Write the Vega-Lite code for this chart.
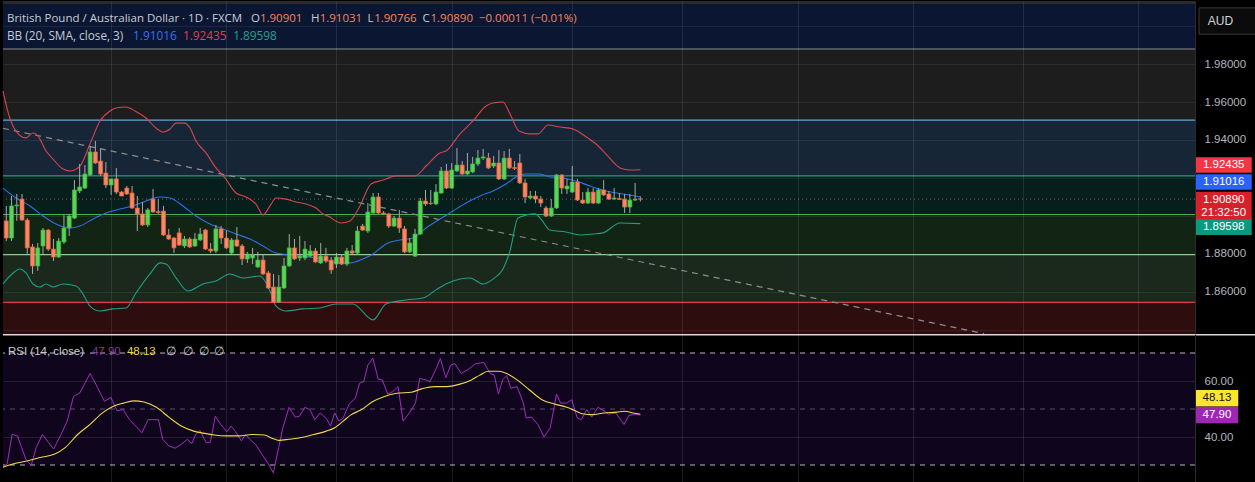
{
  "$schema": "https://vega.github.io/schema/vega-lite/v6.json",
  "background": "#000000",
  "padding": 0,
  "spacing": 0,
  "config": {
    "view": {"stroke": null},
    "font": "Liberation Sans",
    "concat": {"spacing": 0},
    "axis": {"labelFont": "Liberation Sans", "titleFont": "Liberation Sans"}
  },
  "datasets": {
    "zones": [
      {"z": "navy", "lo": 1.9879, "hi": 2.02},
      {"z": "gray", "lo": 1.9505, "hi": 1.9879},
      {"z": "blue", "lo": 1.9211, "hi": 1.9505},
      {"z": "teal", "lo": 1.9008, "hi": 1.9211},
      {"z": "green", "lo": 1.8797, "hi": 1.9008},
      {"z": "lgreen", "lo": 1.8545, "hi": 1.8797},
      {"z": "red", "lo": 1.83, "hi": 1.8545}
    ],
    "zlines": [
      {"n": "gray", "p": 1.9879},
      {"n": "blue", "p": 1.9505},
      {"n": "teal", "p": 1.9211},
      {"n": "green", "p": 1.9008},
      {"n": "lgreen", "p": 1.8797},
      {"n": "red", "p": 1.8545}
    ],
    "trend": [
      {"t": -0.63, "p": 1.94616},
      {"t": 186.6, "p": 1.83805}
    ],
    "candles": [
      {"i":0,"o":1.8974,"h":1.9053,"l":1.8868,"c":1.8884},
      {"i":1,"o":1.8884,"h":1.9105,"l":1.8868,"c":1.9053},
      {"i":2,"o":1.9053,"h":1.9116,"l":1.8974,"c":1.9058},
      {"i":3,"o":1.9089,"h":1.9116,"l":1.8974,"c":1.8979},
      {"i":4,"o":1.8979,"h":1.8989,"l":1.8800,"c":1.8832},
      {"i":5,"o":1.8837,"h":1.8853,"l":1.8695,"c":1.8737},
      {"i":6,"o":1.8737,"h":1.8858,"l":1.8711,"c":1.8832},
      {"i":7,"o":1.8842,"h":1.8937,"l":1.8800,"c":1.8926},
      {"i":8,"o":1.8926,"h":1.8932,"l":1.8816,"c":1.8826},
      {"i":9,"o":1.8826,"h":1.8879,"l":1.8763,"c":1.8784},
      {"i":10,"o":1.8784,"h":1.8884,"l":1.8779,"c":1.8868},
      {"i":11,"o":1.8863,"h":1.9005,"l":1.8853,"c":1.8937},
      {"i":12,"o":1.8937,"h":1.9011,"l":1.8895,"c":1.9000},
      {"i":13,"o":1.8989,"h":1.9189,"l":1.8984,"c":1.9137},
      {"i":14,"o":1.9132,"h":1.9274,"l":1.9121,"c":1.9153},
      {"i":15,"o":1.9147,"h":1.9268,"l":1.9142,"c":1.9221},
      {"i":16,"o":1.9216,"h":1.9368,"l":1.9211,"c":1.9337},
      {"i":17,"o":1.9337,"h":1.9395,"l":1.9274,"c":1.9279},
      {"i":18,"o":1.9289,"h":1.9353,"l":1.9211,"c":1.9221},
      {"i":19,"o":1.9226,"h":1.9284,"l":1.9147,"c":1.9163},
      {"i":20,"o":1.9163,"h":1.9195,"l":1.9111,"c":1.9195},
      {"i":21,"o":1.9195,"h":1.9253,"l":1.9116,"c":1.9126},
      {"i":22,"o":1.9126,"h":1.9132,"l":1.9105,"c":1.9105},
      {"i":23,"o":1.9147,"h":1.9158,"l":1.9111,"c":1.9116},
      {"i":24,"o":1.9121,"h":1.9158,"l":1.9037,"c":1.9042},
      {"i":25,"o":1.9042,"h":1.9105,"l":1.8921,"c":1.9011},
      {"i":26,"o":1.9011,"h":1.9074,"l":1.8947,"c":1.8953},
      {"i":27,"o":1.8953,"h":1.9042,"l":1.8942,"c":1.9032},
      {"i":28,"o":1.9089,"h":1.9142,"l":1.9016,"c":1.9021},
      {"i":29,"o":1.9024,"h":1.9089,"l":1.9011,"c":1.9018},
      {"i":30,"o":1.9026,"h":1.9053,"l":1.8895,"c":1.8900},
      {"i":31,"o":1.8900,"h":1.8932,"l":1.8874,"c":1.8879},
      {"i":32,"o":1.8884,"h":1.8889,"l":1.8805,"c":1.8832},
      {"i":33,"o":1.8911,"h":1.8937,"l":1.8842,"c":1.8847},
      {"i":34,"o":1.8842,"h":1.8895,"l":1.8832,"c":1.8879},
      {"i":35,"o":1.8879,"h":1.8889,"l":1.8832,"c":1.8837},
      {"i":36,"o":1.8842,"h":1.8911,"l":1.8837,"c":1.8879},
      {"i":37,"o":1.8874,"h":1.8937,"l":1.8868,"c":1.8905},
      {"i":38,"o":1.8926,"h":1.8932,"l":1.8821,"c":1.8826},
      {"i":39,"o":1.8826,"h":1.8858,"l":1.8805,"c":1.8816},
      {"i":40,"o":1.8816,"h":1.8953,"l":1.8805,"c":1.8932},
      {"i":41,"o":1.8932,"h":1.8947,"l":1.8853,"c":1.8884},
      {"i":42,"o":1.8884,"h":1.8921,"l":1.8826,"c":1.8832},
      {"i":43,"o":1.8805,"h":1.8884,"l":1.8800,"c":1.8874},
      {"i":44,"o":1.8874,"h":1.8942,"l":1.8837,"c":1.8842},
      {"i":45,"o":1.8842,"h":1.8853,"l":1.8742,"c":1.8774},
      {"i":46,"o":1.8774,"h":1.8811,"l":1.8753,"c":1.8800},
      {"i":47,"o":1.8779,"h":1.8832,"l":1.8747,"c":1.8795},
      {"i":48,"o":1.8732,"h":1.8811,"l":1.8726,"c":1.8768},
      {"i":49,"o":1.8768,"h":1.8800,"l":1.8689,"c":1.8695},
      {"i":50,"o":1.8700,"h":1.8711,"l":1.8616,"c":1.8621},
      {"i":51,"o":1.8626,"h":1.8695,"l":1.8542,"c":1.8547},
      {"i":52,"o":1.8547,"h":1.8689,"l":1.8542,"c":1.8626},
      {"i":53,"o":1.8621,"h":1.8779,"l":1.8616,"c":1.8737},
      {"i":54,"o":1.8737,"h":1.8905,"l":1.8732,"c":1.8832},
      {"i":55,"o":1.8832,"h":1.8879,"l":1.8768,"c":1.8774},
      {"i":56,"o":1.8779,"h":1.8895,"l":1.8763,"c":1.8789},
      {"i":57,"o":1.8779,"h":1.8868,"l":1.8768,"c":1.8826},
      {"i":58,"o":1.8789,"h":1.8847,"l":1.8784,"c":1.8816},
      {"i":59,"o":1.8816,"h":1.8832,"l":1.8753,"c":1.8758},
      {"i":60,"o":1.8753,"h":1.8858,"l":1.8747,"c":1.8789},
      {"i":61,"o":1.8789,"h":1.8832,"l":1.8753,"c":1.8763},
      {"i":62,"o":1.8768,"h":1.8784,"l":1.8695,"c":1.8716},
      {"i":63,"o":1.8747,"h":1.8805,"l":1.8726,"c":1.8784},
      {"i":64,"o":1.8784,"h":1.8800,"l":1.8742,"c":1.8747},
      {"i":65,"o":1.8747,"h":1.8832,"l":1.8737,"c":1.8816},
      {"i":66,"o":1.8816,"h":1.8847,"l":1.8800,"c":1.8805},
      {"i":67,"o":1.8805,"h":1.8947,"l":1.8800,"c":1.8921},
      {"i":68,"o":1.8947,"h":1.8958,"l":1.8921,"c":1.8926},
      {"i":69,"o":1.8921,"h":1.9068,"l":1.8911,"c":1.9021},
      {"i":70,"o":1.9016,"h":1.9121,"l":1.9011,"c":1.9100},
      {"i":71,"o":1.9100,"h":1.9121,"l":1.9011,"c":1.9016},
      {"i":72,"o":1.9016,"h":1.9026,"l":1.9005,"c":1.9011},
      {"i":73,"o":1.9011,"h":1.9016,"l":1.8937,"c":1.8947},
      {"i":74,"o":1.8947,"h":1.9000,"l":1.8942,"c":1.8989},
      {"i":75,"o":1.8989,"h":1.9032,"l":1.8911,"c":1.8937},
      {"i":76,"o":1.8932,"h":1.8947,"l":1.8805,"c":1.8811},
      {"i":77,"o":1.8811,"h":1.8884,"l":1.8805,"c":1.8858},
      {"i":78,"o":1.8789,"h":1.8932,"l":1.8784,"c":1.8905},
      {"i":79,"o":1.8905,"h":1.9095,"l":1.8900,"c":1.9079},
      {"i":80,"o":1.9079,"h":1.9137,"l":1.9053,"c":1.9063},
      {"i":81,"o":1.9068,"h":1.9137,"l":1.9058,"c":1.9066},
      {"i":82,"o":1.9063,"h":1.9168,"l":1.9058,"c":1.9126},
      {"i":83,"o":1.9121,"h":1.9258,"l":1.9116,"c":1.9237},
      {"i":84,"o":1.9237,"h":1.9274,"l":1.9142,"c":1.9147},
      {"i":85,"o":1.9147,"h":1.9279,"l":1.9142,"c":1.9242},
      {"i":86,"o":1.9237,"h":1.9358,"l":1.9232,"c":1.9268},
      {"i":87,"o":1.9268,"h":1.9289,"l":1.9216,"c":1.9221},
      {"i":88,"o":1.9221,"h":1.9332,"l":1.9216,"c":1.9237},
      {"i":89,"o":1.9232,"h":1.9311,"l":1.9226,"c":1.9274},
      {"i":90,"o":1.9274,"h":1.9347,"l":1.9263,"c":1.9305},
      {"i":91,"o":1.9305,"h":1.9353,"l":1.9295,"c":1.9311},
      {"i":92,"o":1.9305,"h":1.9332,"l":1.9247,"c":1.9253},
      {"i":93,"o":1.9263,"h":1.9316,"l":1.9253,"c":1.9279},
      {"i":94,"o":1.9279,"h":1.9347,"l":1.9189,"c":1.9195},
      {"i":95,"o":1.9195,"h":1.9342,"l":1.9189,"c":1.9305},
      {"i":96,"o":1.9305,"h":1.9353,"l":1.9247,"c":1.9253},
      {"i":97,"o":1.9255,"h":1.9289,"l":1.9242,"c":1.9250},
      {"i":98,"o":1.9279,"h":1.9326,"l":1.9168,"c":1.9174},
      {"i":99,"o":1.9174,"h":1.9195,"l":1.9068,"c":1.9100},
      {"i":100,"o":1.9095,"h":1.9132,"l":1.9089,"c":1.9105},
      {"i":101,"o":1.9105,"h":1.9132,"l":1.9068,"c":1.9089},
      {"i":102,"o":1.9089,"h":1.9105,"l":1.9047,"c":1.9068},
      {"i":103,"o":1.9042,"h":1.9053,"l":1.8995,"c":1.9000},
      {"i":104,"o":1.9000,"h":1.9089,"l":1.8995,"c":1.9042},
      {"i":105,"o":1.9042,"h":1.9221,"l":1.9037,"c":1.9216},
      {"i":106,"o":1.9216,"h":1.9221,"l":1.9116,"c":1.9147},
      {"i":107,"o":1.9142,"h":1.9195,"l":1.9116,"c":1.9158},
      {"i":108,"o":1.9126,"h":1.9263,"l":1.9121,"c":1.9179},
      {"i":109,"o":1.9179,"h":1.9195,"l":1.9079,"c":1.9084},
      {"i":110,"o":1.9084,"h":1.9126,"l":1.9063,"c":1.9068},
      {"i":111,"o":1.9068,"h":1.9147,"l":1.9063,"c":1.9126},
      {"i":112,"o":1.9126,"h":1.9147,"l":1.9063,"c":1.9068},
      {"i":113,"o":1.9068,"h":1.9147,"l":1.9063,"c":1.9137},
      {"i":114,"o":1.9137,"h":1.9189,"l":1.9105,"c":1.9111},
      {"i":115,"o":1.9116,"h":1.9132,"l":1.9084,"c":1.9089},
      {"i":116,"o":1.9089,"h":1.9147,"l":1.9084,"c":1.9095},
      {"i":117,"o":1.9092,"h":1.9121,"l":1.9084,"c":1.9087},
      {"i":118,"o":1.9089,"h":1.9116,"l":1.9016,"c":1.9047},
      {"i":119,"o":1.9047,"h":1.9116,"l":1.9016,"c":1.9084},
      {"i":120,"o":1.9084,"h":1.9174,"l":1.9079,"c":1.9089},
      {"i":121,"o":1.90901,"h":1.91031,"l":1.90766,"c":1.90890}
    ],
    "bb": [
      {"t":-0.63,"v":1.9658,"b":"upper"},{"t":0.65,"v":1.9517,"b":"upper"},{"t":1.85,"v":1.9447,"b":"upper"},{"t":3.76,"v":1.9411,"b":"upper"},{"t":5.1,"v":1.9437,"b":"upper"},{"t":6.05,"v":1.9421,"b":"upper"},{"t":7.58,"v":1.9342,"b":"upper"},{"t":8.91,"v":1.93,"b":"upper"},{"t":10.82,"v":1.9247,"b":"upper"},{"t":12.16,"v":1.9237,"b":"upper"},{"t":14.06,"v":1.9263,"b":"upper"},{"t":15.97,"v":1.9379,"b":"upper"},{"t":17.88,"v":1.95,"b":"upper"},{"t":19.79,"v":1.9553,"b":"upper"},{"t":20.94,"v":1.9568,"b":"upper"},{"t":22.84,"v":1.9574,"b":"upper"},{"t":24.56,"v":1.9553,"b":"upper"},{"t":26.66,"v":1.9516,"b":"upper"},{"t":28.57,"v":1.9463,"b":"upper"},{"t":29.9,"v":1.9442,"b":"upper"},{"t":31.24,"v":1.9458,"b":"upper"},{"t":32.39,"v":1.9489,"b":"upper"},{"t":34.1,"v":1.9489,"b":"upper"},{"t":35.06,"v":1.9463,"b":"upper"},{"t":36.2,"v":1.9395,"b":"upper"},{"t":38.11,"v":1.9332,"b":"upper"},{"t":40.02,"v":1.9253,"b":"upper"},{"t":41.74,"v":1.92,"b":"upper"},{"t":43.84,"v":1.9121,"b":"upper"},{"t":45.74,"v":1.91,"b":"upper"},{"t":47.65,"v":1.9063,"b":"upper"},{"t":49.0,"v":1.9005,"b":"upper"},{"t":50.32,"v":1.9053,"b":"upper"},{"t":51.47,"v":1.9095,"b":"upper"},{"t":53.38,"v":1.9089,"b":"upper"},{"t":55.29,"v":1.9074,"b":"upper"},{"t":57.2,"v":1.9063,"b":"upper"},{"t":59.1,"v":1.9042,"b":"upper"},{"t":60.44,"v":1.9011,"b":"upper"},{"t":61.39,"v":1.9,"b":"upper"},{"t":63.87,"v":1.8963,"b":"upper"},{"t":65.59,"v":1.8974,"b":"upper"},{"t":67.5,"v":1.9053,"b":"upper"},{"t":69.6,"v":1.9168,"b":"upper"},{"t":71.89,"v":1.9189,"b":"upper"},{"t":74.37,"v":1.9211,"b":"upper"},{"t":78.0,"v":1.9211,"b":"upper"},{"t":80.1,"v":1.9263,"b":"upper"},{"t":82.77,"v":1.9332,"b":"upper"},{"t":83.91,"v":1.9342,"b":"upper"},{"t":86.58,"v":1.9432,"b":"upper"},{"t":89.06,"v":1.95,"b":"upper"},{"t":91.55,"v":1.9579,"b":"upper"},{"t":92.88,"v":1.9595,"b":"upper"},{"t":94.79,"v":1.96,"b":"upper"},{"t":96.13,"v":1.9537,"b":"upper"},{"t":97.85,"v":1.9447,"b":"upper"},{"t":99.94,"v":1.9432,"b":"upper"},{"t":101.47,"v":1.9432,"b":"upper"},{"t":103.38,"v":1.9479,"b":"upper"},{"t":105.67,"v":1.9468,"b":"upper"},{"t":108.15,"v":1.9458,"b":"upper"},{"t":110.44,"v":1.9421,"b":"upper"},{"t":112.54,"v":1.9379,"b":"upper"},{"t":114.45,"v":1.9326,"b":"upper"},{"t":117.12,"v":1.9253,"b":"upper"},{"t":119.03,"v":1.9242,"b":"upper"},{"t":121,"v":1.92435,"b":"upper"},
      {"t":-0.63,"v":1.9147,"b":"mid"},{"t":1.85,"v":1.9095,"b":"mid"},{"t":4.52,"v":1.9053,"b":"mid"},{"t":7.0,"v":1.9,"b":"mid"},{"t":9.48,"v":1.8958,"b":"mid"},{"t":12.16,"v":1.8937,"b":"mid"},{"t":14.06,"v":1.8947,"b":"mid"},{"t":16.55,"v":1.8984,"b":"mid"},{"t":19.03,"v":1.9016,"b":"mid"},{"t":21.7,"v":1.9037,"b":"mid"},{"t":24.18,"v":1.9053,"b":"mid"},{"t":26.66,"v":1.9079,"b":"mid"},{"t":29.33,"v":1.91,"b":"mid"},{"t":31.24,"v":1.9095,"b":"mid"},{"t":33.72,"v":1.9053,"b":"mid"},{"t":36.2,"v":1.9,"b":"mid"},{"t":38.87,"v":1.8958,"b":"mid"},{"t":41.35,"v":1.8932,"b":"mid"},{"t":43.84,"v":1.8905,"b":"mid"},{"t":46.51,"v":1.8879,"b":"mid"},{"t":48.99,"v":1.8842,"b":"mid"},{"t":51.47,"v":1.8805,"b":"mid"},{"t":54.14,"v":1.8795,"b":"mid"},{"t":56.62,"v":1.8789,"b":"mid"},{"t":59.1,"v":1.8779,"b":"mid"},{"t":63.68,"v":1.8753,"b":"mid"},{"t":65.59,"v":1.8753,"b":"mid"},{"t":68.07,"v":1.8774,"b":"mid"},{"t":69.98,"v":1.88,"b":"mid"},{"t":72.46,"v":1.8853,"b":"mid"},{"t":75.13,"v":1.8874,"b":"mid"},{"t":77.61,"v":1.8884,"b":"mid"},{"t":80.1,"v":1.8937,"b":"mid"},{"t":82.77,"v":1.8984,"b":"mid"},{"t":85.25,"v":1.9026,"b":"mid"},{"t":87.73,"v":1.9068,"b":"mid"},{"t":90.4,"v":1.9105,"b":"mid"},{"t":92.88,"v":1.9132,"b":"mid"},{"t":95.36,"v":1.9168,"b":"mid"},{"t":97.27,"v":1.9205,"b":"mid"},{"t":99.18,"v":1.9221,"b":"mid"},{"t":101.85,"v":1.9221,"b":"mid"},{"t":103.76,"v":1.9205,"b":"mid"},{"t":106.24,"v":1.92,"b":"mid"},{"t":108.72,"v":1.9184,"b":"mid"},{"t":111.39,"v":1.9158,"b":"mid"},{"t":114.45,"v":1.9132,"b":"mid"},{"t":117.69,"v":1.9116,"b":"mid"},{"t":121,"v":1.91016,"b":"mid"},
      {"t":-0.63,"v":1.8642,"b":"lower"},{"t":1.28,"v":1.87,"b":"lower"},{"t":2.61,"v":1.8721,"b":"lower"},{"t":3.76,"v":1.87,"b":"lower"},{"t":5.1,"v":1.8642,"b":"lower"},{"t":6.43,"v":1.8626,"b":"lower"},{"t":7.58,"v":1.8642,"b":"lower"},{"t":8.91,"v":1.8626,"b":"lower"},{"t":10.82,"v":1.8642,"b":"lower"},{"t":13.3,"v":1.8632,"b":"lower"},{"t":14.64,"v":1.8589,"b":"lower"},{"t":15.97,"v":1.8526,"b":"lower"},{"t":17.88,"v":1.85,"b":"lower"},{"t":20.36,"v":1.8511,"b":"lower"},{"t":22.84,"v":1.8516,"b":"lower"},{"t":24.75,"v":1.8595,"b":"lower"},{"t":27.42,"v":1.8695,"b":"lower"},{"t":29.33,"v":1.8753,"b":"lower"},{"t":30.48,"v":1.8747,"b":"lower"},{"t":32.39,"v":1.8674,"b":"lower"},{"t":34.68,"v":1.8605,"b":"lower"},{"t":37.53,"v":1.8642,"b":"lower"},{"t":40.02,"v":1.8658,"b":"lower"},{"t":42.69,"v":1.8695,"b":"lower"},{"t":45.17,"v":1.8674,"b":"lower"},{"t":48.42,"v":1.8684,"b":"lower"},{"t":50.32,"v":1.8605,"b":"lower"},{"t":51.47,"v":1.8526,"b":"lower"},{"t":53.38,"v":1.85,"b":"lower"},{"t":56.62,"v":1.8511,"b":"lower"},{"t":59.87,"v":1.8516,"b":"lower"},{"t":62.92,"v":1.8537,"b":"lower"},{"t":66.15,"v":1.8537,"b":"lower"},{"t":69.98,"v":1.8453,"b":"lower"},{"t":72.46,"v":1.8537,"b":"lower"},{"t":76.28,"v":1.8558,"b":"lower"},{"t":79.52,"v":1.8568,"b":"lower"},{"t":82.0,"v":1.8611,"b":"lower"},{"t":83.91,"v":1.8642,"b":"lower"},{"t":86.58,"v":1.8668,"b":"lower"},{"t":88.49,"v":1.8674,"b":"lower"},{"t":90.97,"v":1.8642,"b":"lower"},{"t":92.88,"v":1.8668,"b":"lower"},{"t":94.79,"v":1.8721,"b":"lower"},{"t":96.13,"v":1.8816,"b":"lower"},{"t":97.65,"v":1.8989,"b":"lower"},{"t":100.9,"v":1.9011,"b":"lower"},{"t":102.04,"v":1.8984,"b":"lower"},{"t":103.76,"v":1.8926,"b":"lower"},{"t":106.81,"v":1.8916,"b":"lower"},{"t":109.48,"v":1.89,"b":"lower"},{"t":111.96,"v":1.8905,"b":"lower"},{"t":113.87,"v":1.8911,"b":"lower"},{"t":117.12,"v":1.8963,"b":"lower"},{"t":121,"v":1.89598,"b":"lower"}
    ],
    "hdr1": [
      {"t":0.13,"p":2.0037,"s":"British Pound / Australian Dollar · 1D · FXCM","k":"text"},
      {"t":46.7,"p":2.0037,"s":"O","k":"text"},
      {"t":48.4,"p":2.0037,"s":"1.90901","k":"down"},
      {"t":58.15,"p":2.0037,"s":"H","k":"text"},
      {"t":59.8,"p":2.0037,"s":"1.91031","k":"down"},
      {"t":68.93,"p":2.0037,"s":"L","k":"text"},
      {"t":70.2,"p":2.0037,"s":"1.90766","k":"down"},
      {"t":79.45,"p":2.0037,"s":"C","k":"text"},
      {"t":80.95,"p":2.0037,"s":"1.90890","k":"down"},
      {"t":90.2,"p":2.0037,"s":"−0.00011 (−0.01%)","k":"down"}
    ],
    "hdr2": [
      {"t":0.13,"p":1.9947,"s":"BB (20, SMA, close, 3)","k":"text"},
      {"t":24.2,"p":1.9947,"s":"1.91016","k":"mid"},
      {"t":33.7,"p":1.9947,"s":"1.92435","k":"upper"},
      {"t":43.3,"p":1.9947,"s":"1.89598","k":"lower"}
    ],
    "tagbox": [
      {"k":"upper","p":1.92684},
      {"k":"mid","p":1.91789},
      {"k":"last","p":1.90526},
      {"k":"lower","p":1.89405}
    ],
    "tagtxt": [
      {"p":1.92684,"s":"1.92435"},
      {"p":1.91789,"s":"1.91016"},
      {"p":1.90868,"s":"1.90890"},
      {"p":1.90168,"s":"21:32:50"},
      {"p":1.89405,"s":"1.89598"}
    ],
    "rsi": [
      {"t":-0.63,"v":29.2},{"t":0.16,"v":30.4},{"t":1.11,"v":40.9},{"t":2.14,"v":40.4},{"t":2.93,"v":36.2},{"t":3.72,"v":32.1},{"t":4.75,"v":29.8},{"t":5.7,"v":36.2},{"t":6.89,"v":40.9},{"t":8.07,"v":38.0},{"t":9.02,"v":35.7},{"t":10.45,"v":40.9},{"t":11.63,"v":45.7},{"t":12.82,"v":54.5},{"t":14.01,"v":55.7},{"t":15.99,"v":62.7},{"t":17.17,"v":58.6},{"t":18.75,"v":52.7},{"t":19.94,"v":54.2},{"t":21.13,"v":49.4},{"t":22.31,"v":49.8},{"t":23.5,"v":46.2},{"t":24.69,"v":43.9},{"t":25.88,"v":41.5},{"t":27.06,"v":46.2},{"t":29.04,"v":46.2},{"t":29.83,"v":39.2},{"t":31.02,"v":36.8},{"t":32.2,"v":36.0},{"t":33.39,"v":37.4},{"t":34.58,"v":39.2},{"t":35.37,"v":37.6},{"t":36.16,"v":40.9},{"t":36.95,"v":42.4},{"t":38.14,"v":38.0},{"t":38.93,"v":38.0},{"t":39.88,"v":47.4},{"t":40.91,"v":44.5},{"t":42.1,"v":41.9},{"t":42.89,"v":43.9},{"t":43.68,"v":42.1},{"t":44.86,"v":38.6},{"t":45.66,"v":40.9},{"t":46.45,"v":39.2},{"t":47.63,"v":37.2},{"t":48.82,"v":33.7},{"t":50.01,"v":30.4},{"t":50.96,"v":27.2},{"t":51.98,"v":36.2},{"t":52.78,"v":43.3},{"t":53.96,"v":50.6},{"t":55.15,"v":47.1},{"t":55.94,"v":47.4},{"t":56.97,"v":50.6},{"t":57.92,"v":49.8},{"t":58.87,"v":46.2},{"t":59.9,"v":48.6},{"t":61.08,"v":46.6},{"t":61.87,"v":43.9},{"t":62.67,"v":48.6},{"t":63.46,"v":45.7},{"t":64.25,"v":46.6},{"t":65.44,"v":51.8},{"t":66.62,"v":53.9},{"t":67.41,"v":59.2},{"t":68.2,"v":59.8},{"t":69.0,"v":65.7},{"t":69.95,"v":68.2},{"t":70.97,"v":60.7},{"t":71.76,"v":60.4},{"t":72.79,"v":55.3},{"t":73.74,"v":56.2},{"t":74.77,"v":58.0},{"t":75.72,"v":45.7},{"t":76.91,"v":48.6},{"t":78.09,"v":52.1},{"t":78.89,"v":60.9},{"t":80.07,"v":60.4},{"t":80.86,"v":59.8},{"t":82.05,"v":64.5},{"t":82.84,"v":68.0},{"t":83.87,"v":61.2},{"t":84.82,"v":65.7},{"t":85.61,"v":66.2},{"t":86.8,"v":62.7},{"t":87.98,"v":63.9},{"t":89.57,"v":66.2},{"t":91.15,"v":66.6},{"t":92.34,"v":62.7},{"t":93.13,"v":62.1},{"t":93.92,"v":55.3},{"t":94.71,"v":60.4},{"t":95.5,"v":61.9},{"t":96.29,"v":57.4},{"t":97.48,"v":58.0},{"t":98.67,"v":52.1},{"t":99.22,"v":46.8},{"t":100.25,"v":47.1},{"t":101.44,"v":44.5},{"t":102.62,"v":40.0},{"t":103.81,"v":43.3},{"t":105.0,"v":55.3},{"t":105.79,"v":52.1},{"t":106.97,"v":52.1},{"t":107.92,"v":53.3},{"t":108.95,"v":46.8},{"t":109.74,"v":46.2},{"t":110.77,"v":49.8},{"t":111.72,"v":47.1},{"t":112.91,"v":50.6},{"t":113.7,"v":49.8},{"t":114.89,"v":48.2},{"t":116.31,"v":48.6},{"t":117.89,"v":44.5},{"t":118.84,"v":47.8},{"t":120.03,"v":48.0},{"t":121,"v":47.9}
    ],
    "rsima": [
      {"t":-0.63,"v":29.2},{"t":1.74,"v":30.6},{"t":4.12,"v":31.5},{"t":6.49,"v":32.7},{"t":9.26,"v":33.9},{"t":11.24,"v":36.2},{"t":13.61,"v":40.9},{"t":15.99,"v":44.5},{"t":18.36,"v":48.6},{"t":20.34,"v":50.9},{"t":22.31,"v":52.1},{"t":24.29,"v":52.9},{"t":26.27,"v":52.5},{"t":28.64,"v":50.6},{"t":31.02,"v":47.1},{"t":33.39,"v":43.9},{"t":35.77,"v":42.1},{"t":38.14,"v":41.2},{"t":39.72,"v":40.7},{"t":42.1,"v":40.4},{"t":44.47,"v":40.4},{"t":46.84,"v":40.9},{"t":49.22,"v":40.7},{"t":50.8,"v":39.5},{"t":51.98,"v":38.8},{"t":53.96,"v":39.2},{"t":56.34,"v":39.8},{"t":58.71,"v":40.9},{"t":61.08,"v":42.1},{"t":62.67,"v":43.3},{"t":64.25,"v":45.6},{"t":65.83,"v":48.0},{"t":67.81,"v":49.8},{"t":69.79,"v":52.5},{"t":72.16,"v":54.5},{"t":74.54,"v":55.6},{"t":77.3,"v":56.0},{"t":79.28,"v":57.2},{"t":81.65,"v":58.0},{"t":84.03,"v":58.0},{"t":86.4,"v":58.8},{"t":88.78,"v":60.4},{"t":90.36,"v":62.1},{"t":91.94,"v":63.5},{"t":93.92,"v":63.5},{"t":95.5,"v":62.7},{"t":97.48,"v":60.4},{"t":99.85,"v":56.8},{"t":102.23,"v":53.3},{"t":104.6,"v":51.8},{"t":106.97,"v":50.6},{"t":108.55,"v":49.4},{"t":110.14,"v":48.2},{"t":111.72,"v":48.0},{"t":114.09,"v":48.6},{"t":116.47,"v":48.9},{"t":118.05,"v":49.2},{"t":119.63,"v":48.6},{"t":121,"v":48.13}
    ],
    "rlev": [
      {"v":70,"k":"edge"},{"v":50,"k":"mid"},{"v":30,"k":"edge"}
    ],
    "rhdr": [
      {"t":0.32,"p":70.3,"s":"RSI (14, close)","k":"text"},
      {"t":16.35,"p":70.3,"s":"47.90","k":"rsi"},
      {"t":23.03,"p":70.3,"s":"48.13","k":"ma"},
      {"t":30.48,"p":70.3,"s":"∅","k":"text"},
      {"t":33.72,"p":70.3,"s":"∅","k":"text"},
      {"t":36.77,"p":70.3,"s":"∅","k":"text"},
      {"t":39.64,"p":70.3,"s":"∅","k":"text"}
    ],
    "rtag": [
      {"k":"ma","p":53.82,"s":"48.13"},
      {"k":"rsi","p":47.86,"s":"47.90"}
    ]
  },
  "vconcat": [
    {
      "width": 1192,
      "height": 333,
      "resolve": {"scale": {"color": "independent", "fill": "independent", "stroke": "independent", "shape": "independent"}},
      "layer": [
        {
          "data": {"name": "zones"},
          "mark": {"type": "rect", "clip": true},
          "encoding": {
            "y": {"field": "lo", "type": "quantitative",
              "scale": {"domain": [1.83789, 2.01316], "nice": false, "zero": false, "padding": 0},
              "axis": {"orient": "right", "values": [1.84, 1.86, 1.88, 1.9, 1.92, 1.94, 1.96, 1.98, 2.0],
                "grid": true, "gridColor": "#ffffff", "gridOpacity": 0.07, "ticks": false,
                "domain": true, "domainColor": "#2b2b2b", "labelColor": "#b2b5be", "labelFontSize": 11.5,
                "labelPadding": 9, "labelAlign": "left", "title": null, "zindex": 1,
                "labelExpr": "(datum.value > 1.85 && datum.value < 1.99 && abs(datum.value - 1.9) > 0.001 && abs(datum.value - 1.92) > 0.001) ? format(datum.value, '.5f') : ''"}},
            "y2": {"field": "hi"},
            "color": {"field": "z", "type": "nominal", "legend": null,
              "scale": {"domain": ["navy", "gray", "blue", "teal", "green", "lgreen", "red"],
                "range": ["#0a1632", "#1d1d1d", "#172636", "#061f1c", "#122414", "#1b291d", "#2e0d0f"]}}
          }
        },
        {
          "data": {"values": [{}]},
          "mark": {"type": "rule", "color": "#2b2b2b", "strokeWidth": 3},
          "encoding": {"y": {"datum": 2.0124}}
        },
        {
          "data": {"name": "zlines"},
          "mark": {"type": "rule", "strokeWidth": 1.2},
          "encoding": {
            "y": {"field": "p", "type": "quantitative"},
            "color": {"field": "n", "type": "nominal", "legend": null,
              "scale": {"domain": ["gray", "blue", "teal", "green", "lgreen", "red"],
                "range": ["#8a8a8a", "#64a8dc", "#2a9a88", "#4fae57", "#86c98a", "#d8424a"]}}
          }
        },
        {
          "data": {"name": "trend"},
          "mark": {"type": "line", "color": "#8c8c8c", "strokeWidth": 1.2, "strokeDash": [6, 5], "clip": true},
          "encoding": {
            "x": {"field": "t", "type": "quantitative"},
            "y": {"field": "p", "type": "quantitative"}
          }
        },
        {
          "data": {"values": [{}]},
          "mark": {"type": "rule", "color": "#f23645", "strokeWidth": 1, "strokeDash": [1, 3], "opacity": 0.9},
          "encoding": {"y": {"datum": 1.9089}}
        },
        {
          "data": {"name": "bb"},
          "mark": {"type": "line", "strokeWidth": 1.1, "interpolate": "monotone"},
          "encoding": {
            "x": {"field": "t", "type": "quantitative"},
            "y": {"field": "v", "type": "quantitative"},
            "color": {"field": "b", "type": "nominal", "legend": null,
              "scale": {"domain": ["upper", "mid", "lower"], "range": ["#d9434f", "#2f6fe8", "#1f9e86"]}}
          }
        },
        {
          "data": {"name": "candles"},
          "mark": {"type": "rule", "color": "#a8a8a8", "strokeWidth": 1},
          "encoding": {
            "x": {"field": "i", "type": "quantitative",
              "scale": {"domain": [-0.63, 226.85], "nice": false, "zero": false, "padding": 0},
              "axis": {"orient": "bottom", "values": [20, 42, 63, 85, 108, 129, 151, 173, 194, 216],
                "grid": true, "gridColor": "#ffffff", "gridOpacity": 0.09, "labels": false, "ticks": false,
                "domain": false, "title": null, "zindex": 1, "minExtent": 0, "maxExtent": 0}},
            "y": {"field": "l", "type": "quantitative"},
            "y2": {"field": "h"}
          }
        },
        {
          "data": {"name": "candles"},
          "mark": {"type": "bar", "width": 4, "strokeWidth": 0.7},
          "encoding": {
            "x": {"field": "i", "type": "quantitative"},
            "y": {"field": "o", "type": "quantitative"},
            "y2": {"field": "c"},
            "fill": {"condition": {"test": "datum.c >= datum.o", "value": "#5ad35a"}, "value": "#f4896a"},
            "stroke": {"condition": {"test": "datum.c >= datum.o", "value": "#3cb43c"}, "value": "#ee5b38"}
          }
        },
        {
          "data": {"name": "hdr1"},
          "mark": {"type": "text", "align": "left", "baseline": "middle", "fontSize": 11.5, "font": "Open Sans"},
          "encoding": {
            "x": {"field": "t", "type": "quantitative"},
            "y": {"field": "p", "type": "quantitative"},
            "text": {"field": "s"},
            "color": {"field": "k", "type": "nominal", "legend": null,
              "scale": {"domain": ["text", "down"], "range": ["#c9ccd4", "#f7865e"]}}
          }
        },
        {
          "data": {"name": "hdr2"},
          "mark": {"type": "text", "align": "left", "baseline": "middle", "fontSize": 11.8, "font": "Open Sans"},
          "encoding": {
            "x": {"field": "t", "type": "quantitative"},
            "y": {"field": "p", "type": "quantitative"},
            "text": {"field": "s"},
            "color": {"field": "k", "type": "nominal", "legend": null,
              "scale": {"domain": ["text", "mid", "upper", "lower"],
                "range": ["#c9ccd4", "#3d6ff0", "#e0404f", "#23a38d"]}}
          }
        },
        {
          "data": {"name": "tagbox"},
          "mark": {"type": "point", "filled": true, "opacity": 1, "size": 3136, "strokeWidth": 0},
          "encoding": {
            "x": {"datum": 232.33},
            "y": {"field": "p", "type": "quantitative"},
            "shape": {"field": "k", "type": "nominal", "legend": null,
              "scale": {"domain": ["upper", "mid", "last", "lower"],
                "range": ["M-1,-0.277L1,-0.277L1,0.277L-1,0.277Z", "M-1,-0.277L1,-0.277L1,0.277L-1,0.277Z", "M-1,-0.509L1,-0.509L1,0.509L-1,0.509Z", "M-1,-0.277L1,-0.277L1,0.277L-1,0.277Z"]}},
            "fill": {"field": "k", "type": "nominal", "legend": null,
              "scale": {"domain": ["upper", "mid", "last", "lower"],
                "range": ["#f23645", "#2962ff", "#d8202a", "#089981"]}}
          }
        },
        {
          "data": {"name": "tagtxt"},
          "mark": {"type": "text", "align": "center", "baseline": "middle", "fontSize": 11.5, "color": "#ffffff", "font": "Liberation Sans"},
          "encoding": {
            "x": {"datum": 232.33},
            "y": {"field": "p", "type": "quantitative"},
            "text": {"field": "s"}
          }
        },
        {
          "data": {"values": [{"s": "AUD"}]},
          "mark": {"type": "point", "filled": true, "opacity": 1, "size": 3249, "fill": "#0b0b0b", "stroke": "#3a3a3a", "strokeWidth": 1,
            "shape": "M-1,-0.46L1,-0.46L1,0.46L-1,0.46Z"},
          "encoding": {
            "x": {"datum": 233.05},
            "y": {"datum": 2.00263}
          }
        },
        {
          "data": {"values": [{"s": "AUD"}]},
          "mark": {"type": "text", "align": "left", "baseline": "middle", "fontSize": 12, "color": "#d1d4dc", "font": "Liberation Sans"},
          "encoding": {
            "x": {"datum": 229.3},
            "y": {"datum": 2.0026},
            "text": {"field": "s"}
          }
        }
      ]
    },
    {
      "width": 1192,
      "height": 149,
      "resolve": {"scale": {"color": "independent", "fill": "independent", "stroke": "independent", "shape": "independent"}},
      "layer": [
        {
          "data": {"values": [{}]},
          "mark": {"type": "rect", "color": "#0f051c"},
          "encoding": {
            "y": {"datum": 30, "type": "quantitative",
              "scale": {"domain": [23.57, 76.79], "nice": false, "zero": false, "padding": 0},
              "axis": {"orient": "right", "values": [40, 60], "format": ".2f",
                "grid": true, "gridColor": "#ffffff", "gridOpacity": 0.1, "ticks": false,
                "domain": true, "domainColor": "#2b2b2b", "labelColor": "#b2b5be", "labelFontSize": 11.5,
                "labelPadding": 9, "labelAlign": "left", "title": null, "zindex": 1}},
            "y2": {"datum": 70}
          }
        },
        {
          "data": {"name": "rlev"},
          "mark": {"type": "rule", "strokeWidth": 1, "strokeDash": [5, 5]},
          "encoding": {
            "y": {"field": "v", "type": "quantitative"},
            "color": {"field": "k", "type": "nominal", "legend": null,
              "scale": {"domain": ["edge", "mid"], "range": ["#b8b8b8", "#5e4f70"]}}
          }
        },
        {
          "data": {"name": "rsi"},
          "mark": {"type": "line", "color": "#a22bc0", "strokeWidth": 1},
          "encoding": {
            "x": {"field": "t", "type": "quantitative",
              "scale": {"domain": [-0.63, 226.85], "nice": false, "zero": false, "padding": 0},
              "axis": {"orient": "bottom", "values": [20, 42, 63, 85, 108, 129, 151, 173, 194, 216],
                "grid": true, "gridColor": "#ffffff", "gridOpacity": 0.1, "labels": false, "ticks": false,
                "domain": false, "title": null, "zindex": 1, "minExtent": 0, "maxExtent": 0}},
            "y": {"field": "v", "type": "quantitative"}
          }
        },
        {
          "data": {"name": "rsima"},
          "mark": {"type": "line", "color": "#efd84a", "strokeWidth": 1.1, "interpolate": "monotone"},
          "encoding": {
            "x": {"field": "t", "type": "quantitative"},
            "y": {"field": "v", "type": "quantitative"}
          }
        },
        {
          "data": {"name": "rhdr"},
          "mark": {"type": "text", "align": "left", "baseline": "middle", "fontSize": 11.5, "font": "Liberation Sans"},
          "encoding": {
            "x": {"field": "t", "type": "quantitative"},
            "y": {"field": "p", "type": "quantitative"},
            "text": {"field": "s"},
            "color": {"field": "k", "type": "nominal", "legend": null,
              "scale": {"domain": ["text", "rsi", "ma"], "range": ["#c9ccd4", "#8a3aa8", "#efd84a"]}}
          }
        },
        {
          "data": {"name": "rtag"},
          "mark": {"type": "point", "filled": true, "opacity": 1, "size": 1806, "strokeWidth": 0,
            "shape": "M-1,-0.388L1,-0.388L1,0.388L-1,0.388Z"},
          "encoding": {
            "x": {"datum": 231.05},
            "y": {"field": "p", "type": "quantitative"},
            "fill": {"field": "k", "type": "nominal", "legend": null,
              "scale": {"domain": ["ma", "rsi"], "range": ["#fbe62e", "#9c27b0"]}}
          }
        },
        {
          "data": {"name": "rtag"},
          "mark": {"type": "text", "align": "center", "baseline": "middle", "fontSize": 11.5, "font": "Liberation Sans"},
          "encoding": {
            "x": {"datum": 231.05},
            "y": {"field": "p", "type": "quantitative"},
            "text": {"field": "s"},
            "color": {"condition": {"test": "datum.k == 'ma'", "value": "#111111"}, "value": "#ffffff"}
          }
        },
        {
          "data": {"values": [{}]},
          "mark": {"type": "rule", "color": "#d8d8d8", "strokeWidth": 1.6},
          "encoding": {
            "x": {"datum": -0.63},
            "x2": {"datum": 239},
            "y": {"datum": 76.5}
          }
        }
      ]
    }
  ]
}
